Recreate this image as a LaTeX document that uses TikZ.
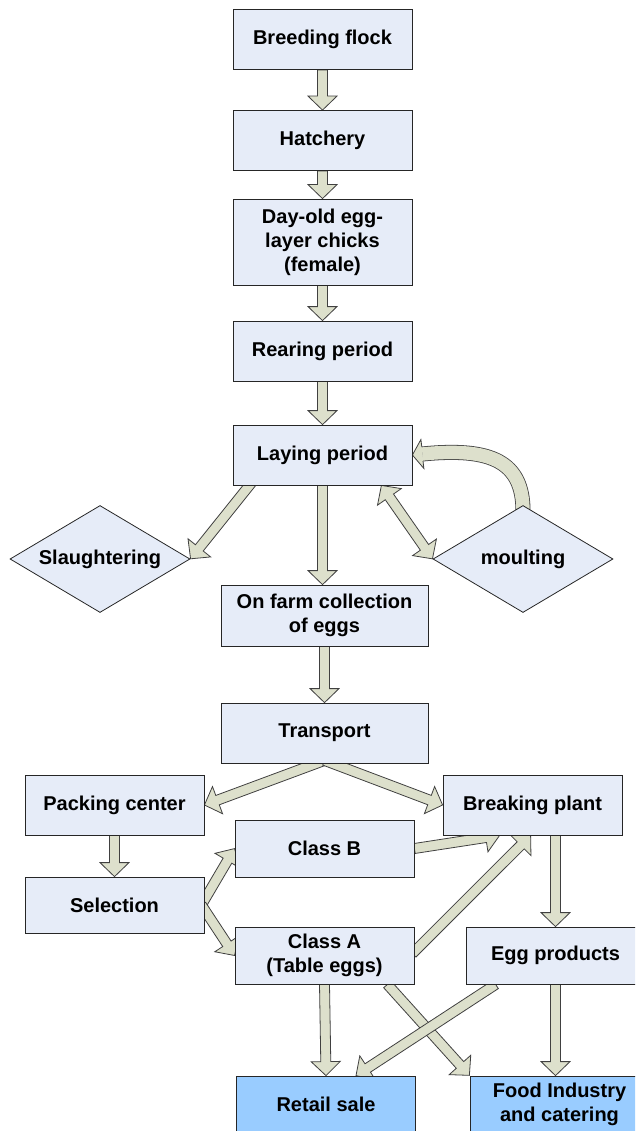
\documentclass[tikz,border=0pt]{standalone}
\usepackage{fontspec}
\setmainfont{Liberation Sans}
\usetikzlibrary{calc,shapes.geometric}
\pgfdeclarelayer{bg}
\pgfsetlayers{bg,main}
\definecolor{boxfill}{RGB}{230,236,248}
\definecolor{arrfill}{RGB}{221,224,204}
\definecolor{bluefill}{RGB}{153,204,255}
\tikzset{
  box/.style={draw=black!85, line width=0.8pt, fill=boxfill, minimum width=179pt,
    minimum height=60pt, inner sep=0pt, align=center,
    font=\fontsize{20}{24}\selectfont\bfseries},
  endbox/.style={box, fill=bluefill},
  dia/.style={diamond, aspect=1.68, draw=black!85, line width=0.8pt, fill=boxfill,
    minimum width=180pt, minimum height=107pt, inner sep=0pt,
    font=\fontsize{20}{24}\selectfont\bfseries},
  barrow/.style={draw=black!75, line width=0.8pt, fill=arrfill, line join=miter},
}
\newcommand\blockarrow[2]{%
  \path[barrow] let \p1=(#1), \p2=(#2),
    \n1={atan2(\y2-\y1,\x2-\x1)}, \n2={veclen(\x2-\x1,\y2-\y1)} in
    [shift={(\p1)}, rotate=\n1]
    (0pt,-5pt) -- ({(\n2-14)*1pt},-5pt) -- ({(\n2-14)*1pt},-14.5pt) -- ({\n2*1pt},0pt)
    -- ({(\n2-14)*1pt},14.5pt) -- ({(\n2-14)*1pt},5pt) -- (0pt,5pt) -- cycle;
}
\newcommand\dblarrow[2]{%
  \path[barrow] let \p1=(#1), \p2=(#2),
    \n1={atan2(\y2-\y1,\x2-\x1)}, \n2={veclen(\x2-\x1,\y2-\y1)} in
    [shift={(\p1)}, rotate=\n1]
    (0pt,0pt) -- (14pt,14.5pt) -- (14pt,5pt) -- ({(\n2-14)*1pt},5pt) -- ({(\n2-14)*1pt},14.5pt)
    -- ({\n2*1pt},0pt) -- ({(\n2-14)*1pt},-14.5pt) -- ({(\n2-14)*1pt},-5pt) -- (14pt,-5pt)
    -- (14pt,-14.5pt) -- cycle;
}
\begin{document}
\begin{tikzpicture}[x=1pt,y=-1pt]
\useasboundingbox (0,0) rectangle (635,1131);
\clip (0,0) rectangle (635,1131);

\node[box] (bf) at (322.5,39.5) {Breeding flock};
\node[box] (hat) at (322.5,140.5) {Hatchery};
\node[box, minimum height=86pt] (day) at (322.5,242) {Day-old egg-\\layer chicks\\(female)};
\node[box] (rear) at (322.5,351) {Rearing period};
\node[box] (lay) at (322.5,455) {Laying period};
\node[dia] (sl) at (100,559) {Slaughtering};
\node[dia] (mo) at (523,559) {moulting};
\node[box, minimum width=207pt, minimum height=61pt] (farm) at (324.5,615.5) {On farm collection\\of eggs};
\node[box, minimum width=207pt] (tr) at (324.5,733) {Transport};
\node[box] (pack) at (114.5,805) {Packing center};
\node[box] (brk) at (532.5,805) {Breaking plant};
\node[box, minimum height=57pt] (clb) at (324.5,848.5) {Class B};
\node[box, minimum height=56pt] (sel) at (114.5,905) {Selection};
\node[box, minimum height=57pt] (cla) at (324.5,955.5) {Class A\\(Table eggs)};
\node[box, minimum height=57pt] (egg) at (555.5,955.5) {Egg products};
\node[endbox, minimum height=56pt] (ret) at (326,1104) {Retail sale};
\node[endbox, minimum height=56pt] (food) at (559.5,1104) {Food Industry\\and catering};

\begin{pgfonlayer}{bg}
\blockarrow{bf.south}{hat.north}
\blockarrow{hat.south}{day.north}
\blockarrow{day.south}{rear.north}
\blockarrow{rear.south}{lay.north}
\blockarrow{lay.south}{lay.south |- farm.north}
\blockarrow{$(lay.south west)+(20,-4)$}{sl.east}
\dblarrow{$(lay.south east)+(-31,0)$}{mo.west}
% curved arrow moulting -> laying period
\draw[black!75, line width=15pt] ($(mo.north)+(0,6)$) .. controls (523,462) and (492,447) .. ($(lay.east)+(10,-1)$);
\draw[arrfill, line width=13.4pt] ($(mo.north)+(0,6)$) .. controls (523,462) and (492,447) .. ($(lay.east)+(10,-1)$);
\fill[arrfill] ($(lay.east)+(8.5,-15.5)$) -- (lay.east) -- ($(lay.east)+(11.5,13.5)$) -- cycle;
\draw[black!75, line width=0.8pt, line join=miter] ($(lay.east)+(9.4,-8)$) -- ($(lay.east)+(8.5,-15.5)$) -- (lay.east) -- ($(lay.east)+(11.5,13.5)$) -- ($(lay.east)+(10.6,6)$);
\blockarrow{farm.south}{farm.south |- tr.north}
\blockarrow{$(tr.south)+(0,-3)$}{pack.east}
\blockarrow{$(tr.south)+(0,-3)$}{brk.west}
\blockarrow{pack.south}{sel.north}
\blockarrow{$(sel.east)+(-3,0)$}{clb.west}
\blockarrow{$(sel.east)+(-3,0)$}{cla.west}
\blockarrow{clb.east}{$(brk.south west)+(57,0)$}
\blockarrow{$(cla.east)+(-2,-2)$}{$(brk.south west)+(88,0)$}
\blockarrow{egg.north |- brk.south}{egg.north}
\blockarrow{egg.south}{egg.south |- food.north}
\blockarrow{cla.south}{ret.north}
\blockarrow{$(cla.south east)+(-27,0)$}{food.north west}
\blockarrow{$(egg.south west)+(30,0)$}{$(ret.north)+(30,0)$}
\end{pgfonlayer}
\end{tikzpicture}
\end{document}
